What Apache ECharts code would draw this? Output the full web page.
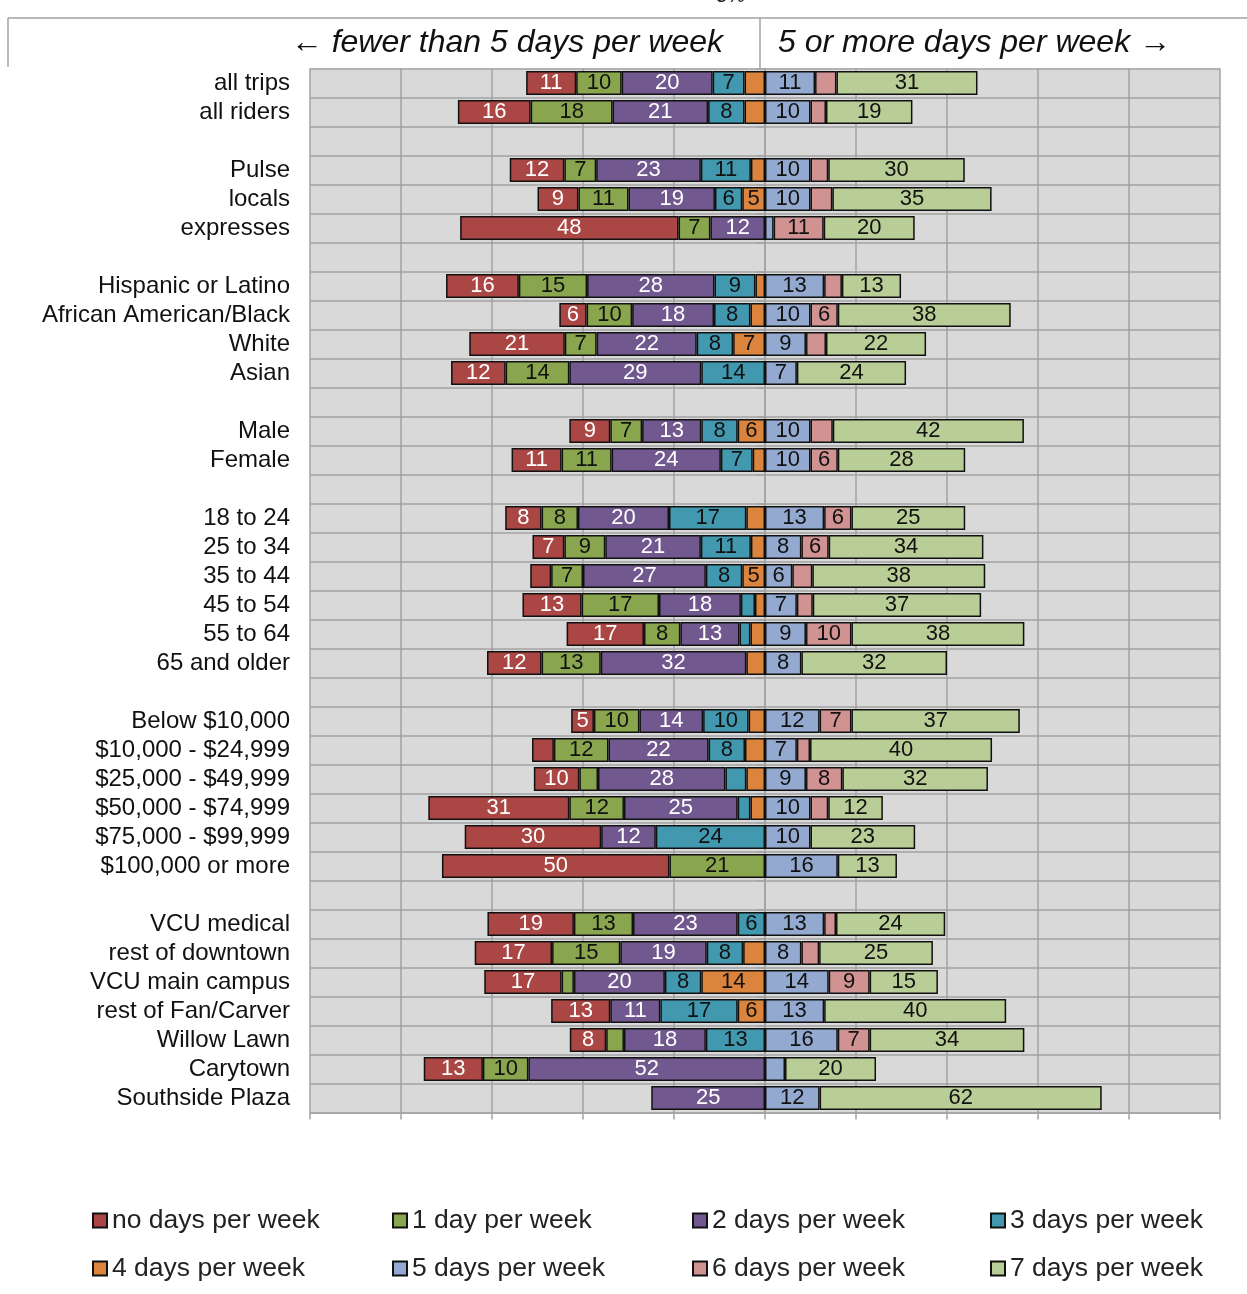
<!DOCTYPE html>
<html>
<head>
<meta charset="utf-8">
<script src="https://cdn.jsdelivr.net/npm/echarts@6/dist/echarts.min.js"></script>
<style>
  html, body { margin: 0; padding: 0; background: #ffffff; }
  #chart { width: 1247px; height: 1294px; }
</style>
</head>
<body>
<div id="chart"></div>
<script>
// Rider groups, top to bottom; blank strings are spacer rows between groups.
const categories = [
  'all trips', 'all riders', ' ',
  'Pulse', 'locals', 'expresses', '  ',
  'Hispanic or Latino', 'African American/Black', 'White', 'Asian', '   ',
  'Male', 'Female', '    ',
  '18 to 24', '25 to 34', '35 to 44', '45 to 54', '55 to 64', '65 and older', '     ',
  'Below $10,000', '$10,000 - $24,999', '$25,000 - $49,999', '$50,000 - $74,999', '$75,000 - $99,999', '$100,000 or more', '      ',
  'VCU medical', 'rest of downtown', 'VCU main campus', 'rest of Fan/Carver', 'Willow Lawn', 'Carytown', 'Southside Plaza'
];

// Share of riders (%) by number of days per week they ride; null marks spacer rows.
const noDays   = [11, 16, null, 12, 9, 48, null, 16, 6, 21, 12, null, 9, 11, null, 8, 7, 4.6, 13, 17, 12, null, 5, 4.8, 10, 31, 30, 50, null, 19, 17, 17, 13, 8, 13, 0];
const oneDay   = [10, 18, null, 7, 11, 7, null, 15, 10, 7, 14, null, 7, 11, null, 8, 9, 7, 17, 8, 13, null, 10, 12, 4.1, 12, 0, 21, null, 13, 15, 2.7, 0, 3.9, 10, 0];
const twoDays  = [20, 21, null, 23, 19, 12, null, 28, 18, 22, 29, null, 13, 24, null, 20, 21, 27, 18, 13, 32, null, 14, 22, 28, 25, 12, 0, null, 23, 19, 20, 11, 18, 52, 25];
const threeDays= [7, 8, null, 11, 6, 0, null, 9, 8, 8, 14, null, 8, 7, null, 17, 11, 8, 3.1, 2.4, 0, null, 10, 8, 4.6, 2.8, 24, 0, null, 6, 8, 8, 17, 13, 0, 0];
const fourDays = [4.5, 4.5, null, 3.1, 5, 0, null, 2.1, 3.2, 7, 0, null, 6, 2.7, null, 4.1, 3.1, 5, 2.2, 3.2, 4.1, null, 3.6, 4.4, 4.1, 3.2, 0, 0, null, 0, 4.8, 14, 6, 0, 0, 0];
const fiveDays = [11, 10, null, 10, 10, 1.9, null, 13, 10, 9, 7, null, 10, 10, null, 13, 8, 6, 7, 9, 8, null, 12, 7, 9, 10, 10, 16, null, 13, 8, 14, 13, 16, 4.4, 12];
const sixDays  = [4.7, 3.4, null, 3.9, 4.8, 11, null, 3.9, 6, 4.4, 0, null, 4.9, 6, null, 6, 6, 4.4, 3.5, 10, 0, null, 7, 2.9, 8, 3.9, 0, 0, null, 2.6, 3.9, 9, 0, 7, 0, 0];
const sevenDays= [31, 19, null, 30, 35, 20, null, 13, 38, 22, 24, null, 42, 28, null, 25, 34, 38, 37, 38, 32, null, 37, 40, 32, 12, 23, 13, null, 24, 25, 15, 40, 34, 20, 62];

const axisTicks = [-100, -80, -60, -40, -20, 0, 20, 40, 60, 80, 100];

const FONT = "'Liberation Sans', Arial, sans-serif";

// side: -1 = drawn leftwards (fewer than 5 days), 1 = rightwards (5 or more days)
const seriesDefs = [
  { name: '4 days per week', values: fourDays,  side: -1, color: '#DB843D', text: '#111' },
  { name: '3 days per week', values: threeDays, side: -1, color: '#4198AF', text: '#111' },
  { name: '2 days per week', values: twoDays,   side: -1, color: '#71588F', text: '#fff' },
  { name: '1 day per week',  values: oneDay,    side: -1, color: '#89A54E', text: '#111' },
  { name: 'no days per week',values: noDays,    side: -1, color: '#AA4643', text: '#fff' },
  { name: '5 days per week', values: fiveDays,  side: 1,  color: '#93A9CF', text: '#111' },
  { name: '6 days per week', values: sixDays,   side: 1,  color: '#D19392', text: '#111' },
  { name: '7 days per week', values: sevenDays, side: 1,  color: '#B9CD96', text: '#111' }
];

const legendOrder = [
  'no days per week', '1 day per week', '2 days per week', '3 days per week',
  '4 days per week', '5 days per week', '6 days per week', '7 days per week'
];

const series = seriesDefs.map(d => ({
  name: d.name,
  type: 'bar',
  stack: 'days',
  barWidth: 24,
  data: d.values.map(v => (v === null || v === 0) ? '-' : v * d.side),
  itemStyle: { color: d.color, borderColor: '#111111', borderWidth: 1.5 },
  label: {
    show: true,
    position: 'inside',
    color: d.text,
    fontFamily: FONT,
    fontSize: 22,
    formatter: p => {
      const a = Math.abs(p.value);
      return a >= 5 ? String(Math.round(a)) : '';
    }
  },
  emphasis: { disabled: true },
  animation: false
}));

// One legend block per entry so the entries sit in fixed columns.
const colX = [92, 392, 692, 990];
const rowY = [1220, 1268];
const legends = legendOrder.map((name, i) => ({
  data: [name],
  left: colX[i % 4],
  top: rowY[Math.floor(i / 4)] - 13,
  padding: 0,
  itemWidth: 14,
  itemHeight: 14,
  itemGap: 0,
  icon: 'rect',
  selectedMode: false,
  textStyle: { fontFamily: FONT, fontSize: 26.5, color: '#222' }
}));

const gray = '#A2A2A2';

const chart = echarts.init(document.getElementById('chart'), null, { renderer: 'canvas' });
chart.setOption({
  animation: false,
  backgroundColor: '#ffffff',
  grid: {
    left: 310, right: 27, top: 68.5, bottom: 181.5,
    show: true, backgroundColor: '#D9D9D9', borderWidth: 0
  },
  xAxis: {
    type: 'value',
    min: axisTicks[0],
    max: axisTicks[axisTicks.length - 1],
    interval: 20,
    axisLabel: { show: false },
    axisLine: { show: true, lineStyle: { color: gray, width: 1.5 } },
    axisTick: { show: true, length: 7, lineStyle: { color: gray, width: 1.5 } },
    splitLine: { show: true, lineStyle: { color: gray, width: 1.5 } }
  },
  yAxis: {
    type: 'category',
    inverse: true,
    data: categories,
    axisLine: { show: true, lineStyle: { color: gray, width: 1.5 } },
    axisTick: { show: true, interval: 0, length: 8, lineStyle: { color: gray, width: 1.5 } },
    splitLine: { show: true, interval: 0, lineStyle: { color: gray, width: 1.5 } },
    axisLabel: { interval: 0, margin: 20, fontFamily: FONT, fontSize: 24, color: '#111' }
  },
  legend: legends,
  series: series,
  graphic: [
    { type: 'line', shape: { x1: 8, y1: 18, x2: 1247, y2: 18 }, style: { stroke: gray, lineWidth: 1.5 } },
    { type: 'line', shape: { x1: 8, y1: 18, x2: 8, y2: 67 }, style: { stroke: gray, lineWidth: 1.5 } },
    { type: 'line', shape: { x1: 760, y1: 18, x2: 760, y2: 68 }, style: { stroke: gray, lineWidth: 1.5 } },
    { type: 'text', left: 716, top: -14, style: { text: '5%', fontFamily: FONT, fontSize: 20, fill: '#222' } },
    { type: 'text', right: 1247 - 723, top: 27, style: { text: '\u2190 fewer than 5 days per week', fontFamily: FONT, fontStyle: 'italic', fontSize: 32, fill: '#111' } },
    { type: 'text', left: 778, top: 27, style: { text: '5 or more days per week \u2192', fontFamily: FONT, fontStyle: 'italic', fontSize: 32, fill: '#111' } }
  ]
});
</script>
</body>
</html>
